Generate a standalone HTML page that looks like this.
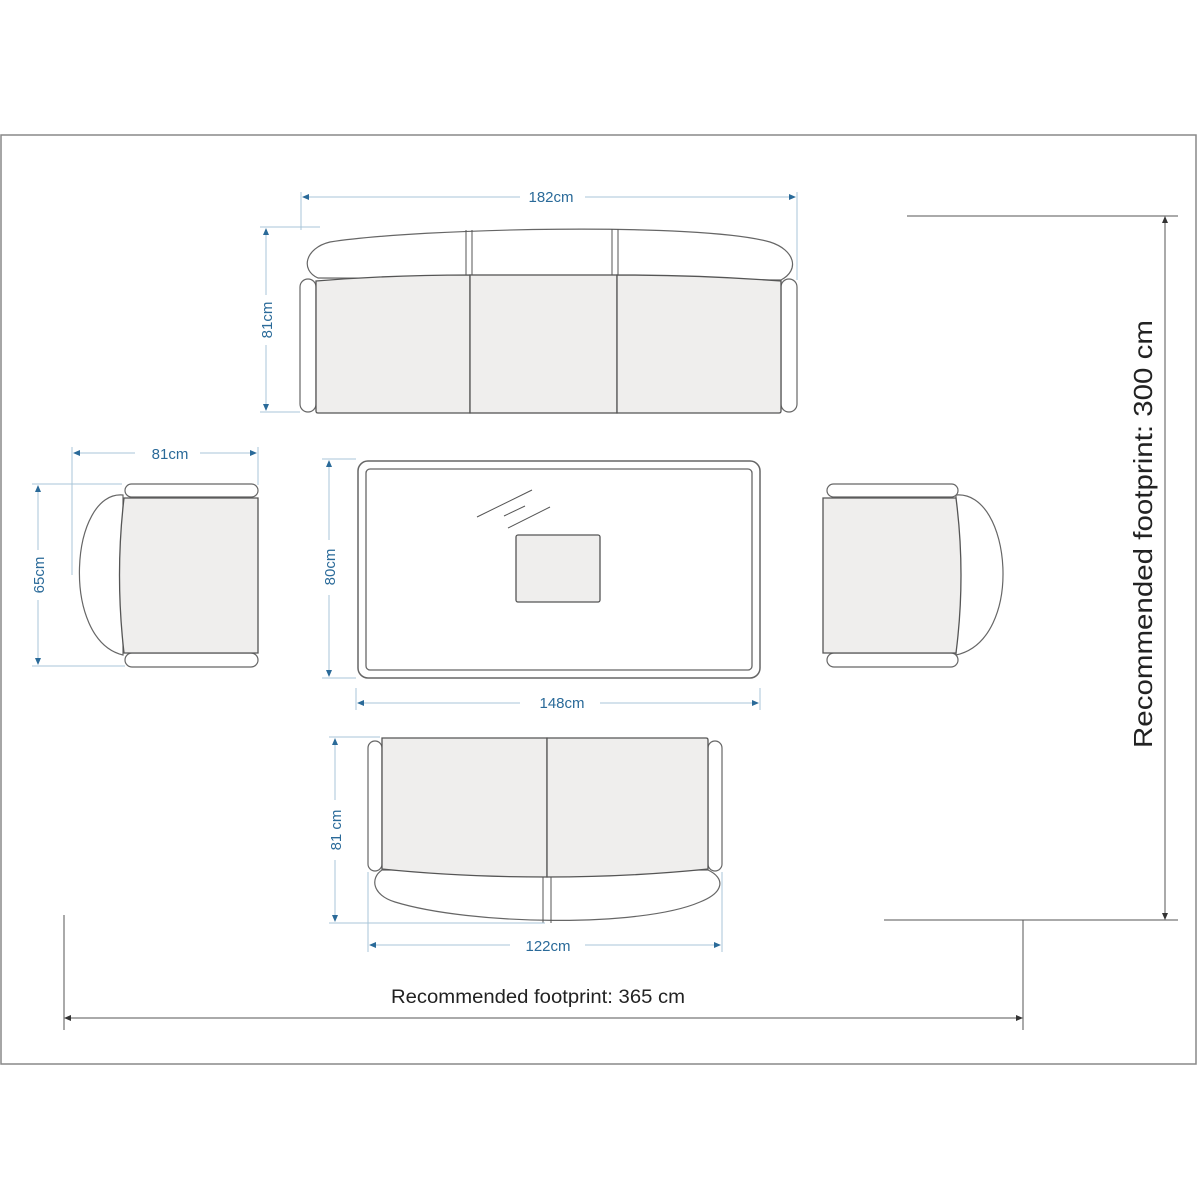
<!DOCTYPE html>
<html><head><meta charset="utf-8"><style>
html,body{margin:0;padding:0;background:#fff;}
svg{display:block;}
.f{fill:#efeeed;stroke:#555;stroke-width:1.3}
.w{fill:#fff;stroke:#666;stroke-width:1.2}
.d{stroke:#a9c5d8;stroke-width:1;fill:none}
.a{fill:#2a6a99}
.t{font-family:"Liberation Sans",sans-serif;font-size:15px;fill:#2a6a99}
.k{stroke:#555;stroke-width:1;fill:none}
</style></head><body>
<svg width="1200" height="1200" viewBox="0 0 1200 1200">
<rect x="1" y="135" width="1195" height="929" fill="none" stroke="#888" stroke-width="1.5"/>

<!-- top sofa -->
<path class="w" d="M318,278 C300,270 305,248 330,242 C420,228 700,222 770,242 C795,250 800,270 781,280 Z"/>
<line class="k" x1="466" y1="230" x2="466" y2="276"/><line class="k" x1="472" y1="230" x2="472" y2="276"/>
<line class="k" x1="612" y1="229" x2="612" y2="276"/><line class="k" x1="618" y1="229" x2="618" y2="276"/>
<rect class="w" x="300" y="279" width="16" height="133" rx="8"/>
<rect class="w" x="781" y="279" width="16" height="133" rx="8"/>
<path class="f" d="M316,281 Q390,275 470,275 L470,413 L318,413 Q316,413 316,411 Z"/>
<rect class="f" x="470" y="275" width="147" height="138"/>
<path class="f" d="M617,275 Q700,275 781,281 L781,411 Q781,413 779,413 L617,413 Z"/>
<line class="d" x1="301" y1="192" x2="301" y2="230"/><line class="d" x1="797" y1="192" x2="797" y2="280"/>
<line class="d" x1="305" y1="197" x2="520" y2="197"/><line class="d" x1="585" y1="197" x2="793" y2="197"/>
<path class="a" d="M302,197 l7,-3 v6z M796,197 l-7,-3 v6z"/>
<text class="t" x="551" y="202" text-anchor="middle">182cm</text>
<line class="d" x1="260" y1="227" x2="320" y2="227"/><line class="d" x1="260" y1="412" x2="300" y2="412"/>
<line class="d" x1="266" y1="230" x2="266" y2="295"/><line class="d" x1="266" y1="345" x2="266" y2="410"/>
<path class="a" d="M266,228 l-3,7 h6z M266,411 l-3,-7 h6z"/>
<text class="t" transform="translate(272,320) rotate(-90)" text-anchor="middle">81cm</text>

<!-- left chair -->
<path class="w" d="M123,495 C70,490 60,640 123,655 Z"/>
<rect class="w" x="125" y="484" width="133" height="13" rx="6.5"/>
<rect class="w" x="125" y="653" width="133" height="14" rx="7"/>
<path class="f" d="M124,498 L258,498 L258,653 L124,653 Q115,575 124,498 Z"/>
<line class="d" x1="72" y1="447" x2="72" y2="575"/><line class="d" x1="258" y1="447" x2="258" y2="485"/>
<line class="d" x1="76" y1="453" x2="135" y2="453"/><line class="d" x1="200" y1="453" x2="254" y2="453"/>
<path class="a" d="M73,453 l7,-3 v6z M257,453 l-7,-3 v6z"/>
<text class="t" x="170" y="459" text-anchor="middle">81cm</text>
<line class="d" x1="32" y1="484" x2="122" y2="484"/><line class="d" x1="32" y1="666" x2="125" y2="666"/>
<line class="d" x1="38" y1="488" x2="38" y2="550"/><line class="d" x1="38" y1="600" x2="38" y2="662"/>
<path class="a" d="M38,485 l-3,7 h6z M38,665 l-3,-7 h6z"/>
<text class="t" transform="translate(44,575) rotate(-90)" text-anchor="middle">65cm</text>

<!-- right chair -->
<path class="w" d="M956,495 C1012,490 1025,640 956,655 Z"/>
<rect class="w" x="827" y="484" width="131" height="13" rx="6.5"/>
<rect class="w" x="827" y="653" width="131" height="14" rx="7"/>
<path class="f" d="M823,498 L956,498 Q966,575 956,653 L823,653 Z"/>

<!-- table -->
<rect x="358" y="461" width="402" height="217" rx="10" fill="#fff" stroke="#666" stroke-width="1.5"/>
<rect x="366" y="469" width="386" height="201" rx="4" fill="#fff" stroke="#666" stroke-width="1.3"/>
<rect x="516" y="535" width="84" height="67" rx="2" class="f"/>
<line class="k" x1="477" y1="517" x2="532" y2="490"/>
<line class="k" x1="504" y1="516" x2="525" y2="506"/>
<line class="k" x1="508" y1="528" x2="550" y2="507"/>
<line class="d" x1="322" y1="459" x2="356" y2="459"/><line class="d" x1="322" y1="678" x2="356" y2="678"/>
<line class="d" x1="329" y1="462" x2="329" y2="540"/><line class="d" x1="329" y1="595" x2="329" y2="675"/>
<path class="a" d="M329,460 l-3,7 h6z M329,677 l-3,-7 h6z"/>
<text class="t" transform="translate(335,567) rotate(-90)" text-anchor="middle">80cm</text>
<line class="d" x1="356" y1="688" x2="356" y2="710"/><line class="d" x1="760" y1="688" x2="760" y2="710"/>
<line class="d" x1="360" y1="703" x2="520" y2="703"/><line class="d" x1="600" y1="703" x2="756" y2="703"/>
<path class="a" d="M357,703 l7,-3 v6z M759,703 l-7,-3 v6z"/>
<text class="t" x="562" y="708" text-anchor="middle">148cm</text>

<!-- bottom sofa -->
<path class="w" d="M382,870 C370,878 372,895 395,902 C470,925 640,928 700,902 C725,892 725,878 708,870 Z"/>
<line class="k" x1="543" y1="877" x2="543" y2="923"/><line class="k" x1="551" y1="877" x2="551" y2="923"/>
<rect class="w" x="368" y="741" width="14" height="130" rx="7"/>
<rect class="w" x="708" y="741" width="14" height="130" rx="7"/>
<path class="f" d="M382,738 L547,738 L547,877 Q460,877 382,869 Z"/>
<path class="f" d="M547,738 L706,738 Q708,738 708,740 L708,869 Q630,877 547,877 Z"/>
<line class="d" x1="329" y1="737" x2="380" y2="737"/><line class="d" x1="329" y1="923" x2="545" y2="923"/>
<line class="d" x1="335" y1="741" x2="335" y2="800"/><line class="d" x1="335" y1="860" x2="335" y2="920"/>
<path class="a" d="M335,738 l-3,7 h6z M335,922 l-3,-7 h6z"/>
<text class="t" transform="translate(341,830) rotate(-90)" text-anchor="middle">81 cm</text>
<line class="d" x1="368" y1="872" x2="368" y2="952"/><line class="d" x1="722" y1="872" x2="722" y2="952"/>
<line class="d" x1="372" y1="945" x2="510" y2="945"/><line class="d" x1="585" y1="945" x2="718" y2="945"/>
<path class="a" d="M369,945 l7,-3 v6z M721,945 l-7,-3 v6z"/>
<text class="t" x="548" y="951" text-anchor="middle">122cm</text>

<!-- footprint -->
<g stroke="#555" stroke-width="1" fill="none">
<line x1="907" y1="216" x2="1178" y2="216"/>
<line x1="884" y1="920" x2="1178" y2="920"/>
<line x1="1165" y1="218" x2="1165" y2="918"/>
<line x1="1023" y1="920" x2="1023" y2="1030"/>
<line x1="64" y1="915" x2="64" y2="1030"/>
<line x1="66" y1="1018" x2="1021" y2="1018"/>
</g>
<path fill="#333" d="M1165,216 l-3,7 h6z M1165,920 l-3,-7 h6z M64,1018 l7,-3 v6z M1023,1018 l-7,-3 v6z"/>
<text x="1152" y="534" transform="rotate(-90 1152 534)" text-anchor="middle" font-family="Liberation Sans,sans-serif" font-size="26" fill="#222" textLength="428" lengthAdjust="spacingAndGlyphs">Recommended footprint: 300 cm</text>
<text x="538" y="1003" text-anchor="middle" font-family="Liberation Sans,sans-serif" font-size="19" fill="#222" textLength="294" lengthAdjust="spacingAndGlyphs">Recommended footprint: 365 cm</text>
</svg>
</body></html>
